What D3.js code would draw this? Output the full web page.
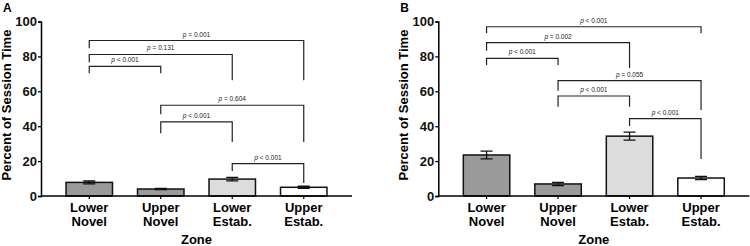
<!DOCTYPE html>
<meta charset="utf-8">
<head>
  <style>
    body { margin: 0; background: #fff; }
    svg { display: block; font-family: "Liberation Sans", Arial, sans-serif; }
  </style>
  <script src="https://d3js.org/d3.v7.min.js"></script>
</head>
<body>
  <div id="content"></div>
  <script>
    // data
    var zones = ["Lower Novel", "Upper Novel", "Lower Estab.", "Upper Estab."];
    var yTicks = [0, 20, 40, 60, 80, 100];

    var meanA = [7.8, 4.0, 9.7, 5.0];
    var errA = [0.8, 0.4, 1.0, 0.6];
    var meanB = [23.5, 6.9, 34.3, 10.3];
    var errB = [2.2, 0.9, 2.3, 0.9];

    // comparisons: from, to, p text, bracket height, left leg end, right leg end
    var bracketsA = [
      [0, 1, "< 0.001", 74.3, 70.3, 70.3],
      [0, 2, "= 0.131", 81.1, 76.6, 66.3],
      [0, 3, "= 0.001", 89.1, 84.7, 66.3],
      [1, 3, "= 0.604", 52.0, 46.9, 30.9],
      [1, 2, "< 0.001", 42.5, 36.0, 30.9],
      [2, 3, "< 0.001", 18.5, 14.3, 7.4]
    ];
    var bracketsB = [
      [0, 3, "< 0.001", 97.0, 93.2, 93.2],
      [0, 2, "= 0.002", 87.9, 83.3, 73.4],
      [0, 1, "< 0.001", 78.9, 75.1, 75.1],
      [1, 3, "= 0.055", 66.1, 60.3, 49.3],
      [1, 2, "< 0.001", 57.3, 51.2, 51.2],
      [2, 3, "< 0.001", 44.3, 40.1, 21.2]
    ];

    var fills = ["#9a9a9a", "#9a9a9a", "#dcdcdc", "#ffffff"];

    var svg = d3.select('#content').append('svg')
      .attr('width', 750)
      .attr('height', 246);

    function panel(letter, x0, means, errs, brackets) {
      var g = svg.append('g');
      var x = d3.scaleBand().domain(zones).range([x0, x0 + 311])
        .paddingInner(0.35).paddingOuter(0.35);
      var y = d3.scaleLinear().domain([0, 100]).range([196, 21.5]);

      // panel letter
      g.append('text').attr('x', x0 - 38).attr('y', 12)
        .attr('font-size', 12).attr('font-weight', 'bold').text(letter);

      // y title
      g.append('text')
        .attr('transform', 'translate(' + (x0 - 30) + ',' + 105 + ') rotate(-90)')
        .attr('text-anchor', 'middle')
        .attr('font-size', 13).attr('font-weight', 'bold')
        .text('Percent of Session Time');

      // bars
      g.selectAll('rect.bar').data(means).enter().append('rect')
        .attr('x', function (d, i) { return x(zones[i]); })
        .attr('y', function (d) { return y(d); })
        .attr('width', x.bandwidth())
        .attr('height', function (d) { return y(0) - y(d); })
        .attr('fill', function (d, i) { return fills[i]; })
        .attr('stroke', '#111').attr('stroke-width', 1.5);

      // error bars
      means.forEach(function (m, i) {
        var cx = x(zones[i]) + x.bandwidth() / 2;
        var e = errs[i];
        g.append('path')
          .attr('d', 'M' + cx + ',' + y(m - e) + 'V' + y(m + e) +
            'M' + (cx - 6) + ',' + y(m + e) + 'H' + (cx + 6) +
            'M' + (cx - 6) + ',' + y(m - e) + 'H' + (cx + 6))
          .attr('stroke', '#111').attr('stroke-width', 1.3).attr('fill', 'none');
      });

      // y axis
      var ya = g.append('g').attr('transform', 'translate(' + x0 + ',0)')
        .call(d3.axisLeft(y).tickValues(yTicks).tickSize(3).tickPadding(1));
      ya.select('.domain').attr('stroke-width', 1.5);
      ya.selectAll('.tick line').attr('stroke-width', 1.3);
      ya.selectAll('text').attr('font-size', 13).attr('font-weight', 'bold')
        .attr('font-family', '"Liberation Sans", Arial, sans-serif').attr('fill', '#111');

      // x axis
      var xa = g.append('g').attr('transform', 'translate(0,' + y(0) + ')')
        .call(d3.axisBottom(x).tickSize(3).tickFormat(''));
      xa.select('.domain').attr('d', 'M' + x0 + ',0H' + (x0 + 311)).attr('stroke-width', 1.5);
      xa.selectAll('.tick line').attr('stroke-width', 1.2);

      // category labels
      zones.forEach(function (z) {
        var parts = z.split(' ');
        var t = g.append('text')
          .attr('x', x(z) + x.bandwidth() / 2).attr('y', 212)
          .attr('text-anchor', 'middle')
          .attr('font-size', 13).attr('font-weight', 'bold');
        t.append('tspan').text(parts[0]);
        t.append('tspan').attr('x', x(z) + x.bandwidth() / 2).attr('dy', 14).text(parts[1]);
      });

      g.append('text').attr('x', x0 + 155.5).attr('y', 244)
        .attr('text-anchor', 'middle')
        .attr('font-size', 13).attr('font-weight', 'bold').text('Zone');

      // significance brackets
      brackets.forEach(function (b) {
        var xa1 = x(zones[b[0]]) + x.bandwidth() / 2;
        var xb1 = x(zones[b[1]]) + x.bandwidth() / 2;
        g.append('path')
          .attr('d', 'M' + xa1 + ',' + y(b[4]) + 'V' + y(b[3]) + 'H' + xb1 + 'V' + y(b[5]))
          .attr('fill', 'none').attr('stroke', '#222').attr('stroke-width', 1.2);
        var t = g.append('text')
          .attr('x', (xa1 + xb1) / 2).attr('y', y(b[3]) - 4)
          .attr('text-anchor', 'middle')
          .attr('font-size', 6.5).attr('fill', '#222');
        t.append('tspan').attr('font-style', 'italic').text('p');
        t.append('tspan').text(' ' + b[2]);
      });
    }

    panel('A', 41, meanA, errA, bracketsA);
    panel('B', 438.3, meanB, errB, bracketsB);
  </script>
</body>
</html>
